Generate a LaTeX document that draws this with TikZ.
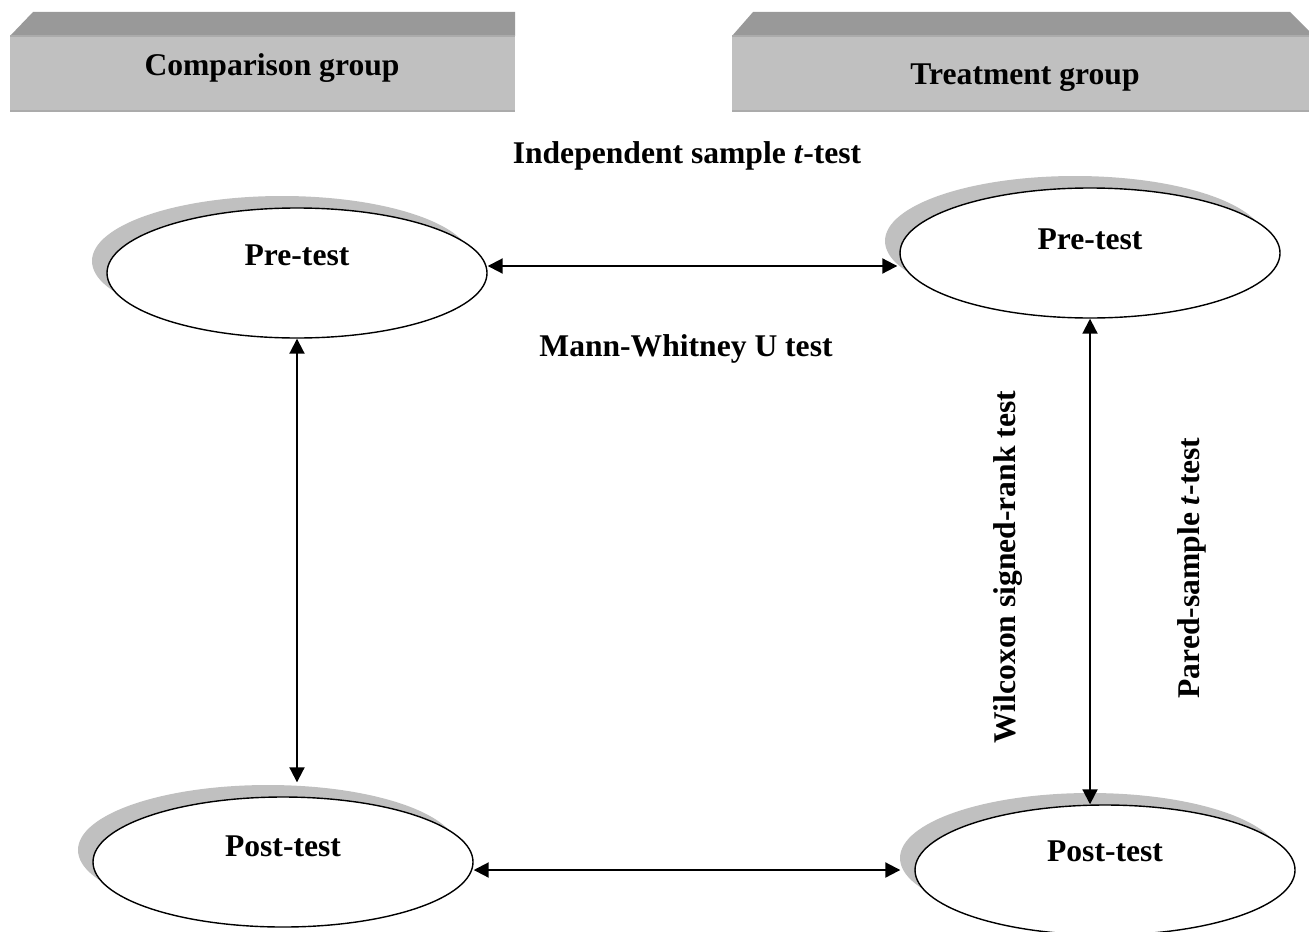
\documentclass[tikz,border=0pt]{standalone}
\usepackage{fontspec}
\setmainfont{Liberation Serif}
\usepackage{tikz}
\usetikzlibrary{arrows.meta,positioning,calc,shapes.geometric}
\definecolor{TopGray}{HTML}{999999}
\definecolor{FaceGray}{HTML}{C0C0C0}
\definecolor{EdgeGray}{HTML}{ABABAB}
\definecolor{ShadowGray}{HTML}{C0C0C0}

\begin{document}
\begin{tikzpicture}[x=0.5pt,y=-0.5pt,>={Triangle[length=7.5pt,width=7.5pt]},
  txt/.style={font=\fontsize{15.8pt}{19pt}\selectfont\bfseries,inner sep=1pt},
  testnode/.style={ellipse,draw,line width=0.7pt,fill=white,minimum width=190pt,minimum height=65pt},
  link/.style={<->,line width=1pt}]
 \useasboundingbox (0,0) rectangle (1309,931);
 % group headers
 \fill[FaceGray] (10,36) rectangle (515,111);
 \fill[TopGray] (10,36)--(33,12)--(515,12)--(515,36)--cycle;
 \draw[EdgeGray,line width=0.8pt] (10,36)--(515,36) (10,111)--(515,111);
 \fill[FaceGray] (732,36) rectangle (1309,111);
 \fill[TopGray] (732,36)--(753,12)--(1290,12)--(1309,31)--(1309,36)--cycle;
 \draw[EdgeGray,line width=0.8pt] (732,36)--(1309,36) (732,111)--(1309,111);
 \node[txt] (cmphead) at (272,68) {Comparison group};
 \node[txt] (trthead) at (1025,78) {Treatment group};
 % test ellipses with their shadows
 \foreach \n/\x/\y in {cpre/297/273,tpre/1090/253,cpost/283/862,tpost/1105/870}{
   \fill[ShadowGray] (\x-15,\y-12) ellipse (190 and 65);
   \node[testnode] (\n) at (\x,\y) {};}
 \node[txt] (cpretxt) at ($(cpre)+(0,-18)$) {Pre-test};
 \node[txt] (tpretxt) at ($(tpre)+(0,-14)$) {Pre-test};
 \node[txt] (cposttxt) at ($(cpost)+(0,-16)$) {Post-test};
 \node[txt] (tposttxt) at ($(tpost)+(0,-19)$) {Post-test};
 % connectors
 \draw[link] ($(cpre.east)+(0,-7)$) -- ($(tpre.west)+(-2,13)$);
 \draw[link] (cpre.south) -- ($(cpre.south |- cpost.north)+(0,-14)$);
 \draw[link] (tpre.south) -- (tpre.south |- tpost.north);
 \draw[link] (cpost.east |- tpost.west) -- ($(tpost.west)+(-14,0)$);
 % test names
 \node[txt] (indep) at (687,156) {Independent sample \textit{t}-test};
 \node[txt] (mann) at (686,349) {Mann-Whitney U test};
 \node[txt,rotate=90] (wilc) at (1008,567) {Wilcoxon signed-rank test};
 \node[txt,rotate=90] (pared) at (1192,568) {Pared-sample \textit{t}-test};
\end{tikzpicture}
\end{document}
